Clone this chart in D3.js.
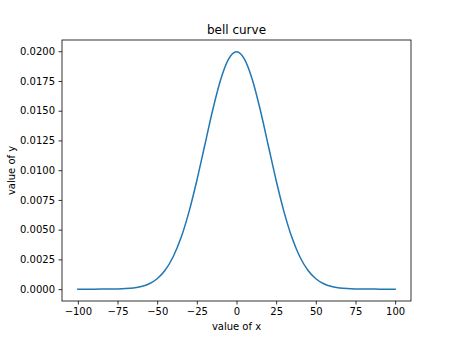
<!DOCTYPE html>
<html><head><meta charset="utf-8">
<script src="https://cdn.jsdelivr.net/npm/d3@7"></script>
<style>body{margin:0;background:#fff}svg{display:block;font-family:"DejaVu Sans",sans-serif}</style>
</head><body><svg id="c" width="457" height="360"></svg>
<script>
const xValues = [-100,-95,-90,-85,-80,-75,-70,-65,-60,-55,-50,-45,-40,-35,-30,-25,-20,-15,-10,-5,0,5,10,15,20,25,30,35,40,45,50,55,60,65,70,75,80,85,90,95,100];
const yHalf = [0.019947,0.019333,0.017603,0.015057,0.012099,0.009132,0.006476,0.004314,0.002700,0.001587,0.000876,0.000455,0.000222,0.000101,0.0000436,0.0000176,0.0000067,0.0000024,0.0000008,0.0000002,0.0000001];
const yValues = [...yHalf.slice(1).reverse(), ...yHalf];
const xTicks = [-100,-75,-50,-25,0,25,50,75,100];
const yTicks = [0,0.0025,0.005,0.0075,0.01,0.0125,0.015,0.0175,0.02];
const title = "bell curve", xLabel = "value of x", yLabel = "value of y";

const m = {l:62, r:411, t:40, b:301};
const svg = d3.select("#c");
svg.append("rect").attr("width",457).attr("height",360).attr("fill","#fff");
const x = d3.scaleLinear().domain([-110,110]).range([m.l,m.r]);
const y = d3.scaleLinear().domain([-0.00099735,0.02094435]).range([m.b,m.t]);

const gx = svg.append("g").attr("transform",`translate(0,${m.b})`)
  .call(d3.axisBottom(x).tickValues(xTicks).tickFormat(d=>d<0?"\u2212"+Math.abs(d):d).tickSize(3.5).tickPadding(3.5));
const gy = svg.append("g").attr("transform",`translate(${m.l},0)`)
  .call(d3.axisLeft(y).tickValues(yTicks).tickFormat(d3.format(".4f")).tickSize(3.5).tickPadding(3.5));
[gx,gy].forEach(g=>{g.select(".domain").remove();g.selectAll("line").attr("stroke","#000").attr("stroke-width",0.8);g.selectAll("text").attr("font-size",10).attr("font-family","DejaVu Sans").attr("fill","#000");});

const data = xValues.map((v,i)=>[v,yValues[i]]);
svg.append("path").datum(data).attr("fill","none").attr("stroke","#1f77b4").attr("stroke-width",1.5)
  .attr("stroke-linejoin","round").attr("stroke-linecap","square")
  .attr("d",d3.line().x(d=>x(d[0])).y(d=>y(d[1])).curve(d3.curveMonotoneX));

svg.append("rect").attr("x",m.l).attr("y",m.t).attr("width",m.r-m.l).attr("height",m.b-m.t)
  .attr("fill","none").attr("stroke","#000").attr("stroke-width",0.8);

svg.append("text").attr("x",(m.l+m.r)/2).attr("y",m.t-6).attr("text-anchor","middle").attr("font-size",12).text(title);
svg.append("text").attr("x",(m.l+m.r)/2).attr("y",330).attr("text-anchor","middle").attr("font-size",10).text(xLabel);
svg.append("text").attr("transform",`translate(15,${(m.t+m.b)/2}) rotate(-90)`).attr("text-anchor","middle").attr("font-size",10).text(yLabel);
</script></body></html>
